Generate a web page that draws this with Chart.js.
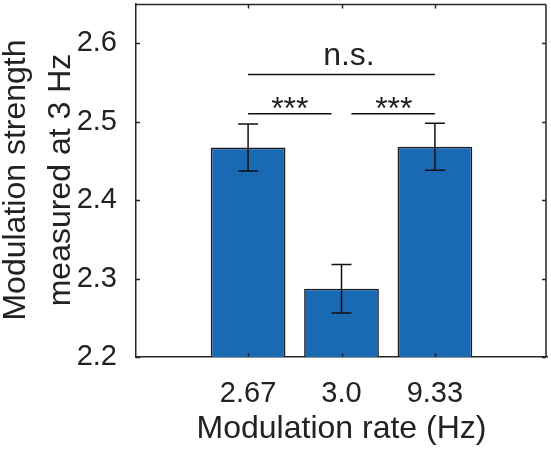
<!DOCTYPE html>
<html>
<head>
<meta charset="utf-8">
<script src="https://cdn.jsdelivr.net/npm/chart.js@4.4.0/dist/chart.umd.min.js"></script>
<style>
  html, body { margin: 0; padding: 0; background: #fff; overflow: hidden; }
  canvas { display: block; }
</style>
</head>
<body>
<canvas id="barChart" width="551" height="452"></canvas>
<script>
// data
var rateLabels = ['2.67', '3.0', '9.33'];
var ratePos = [1, 2, 3];
var strength = [2.467, 2.287, 2.468];
var strengthErr = [0.030, 0.031, 0.030];
var yTicks = [2.2, 2.3, 2.4, 2.5, 2.6];

// significance brackets
var nsBarX = [1, 3];
var nsBarY = 2.56;
var starLeftX = [1, 1.894];
var starRightX = [2.106, 3];
var starBarY = 2.51;
var sigLabels = ['n.s.', '***', '***'];
var sigLabelX = [2.08, 1.447, 2.56];
var sigLabelY = [2.572, 2.504, 2.504];

var FONT = '"Liberation Sans", Arial, sans-serif';
var INK = '#222222';

function bracket(xs, y) {
    return xs.map(function (x) { return { x: x, y: y }; });
}

var framePlugin = {
    id: 'frame',
    afterDatasetsDraw: function (chart) {
        // error bars
        var ctx = chart.ctx;
        var xs = chart.scales.x, ys = chart.scales.y;
        ctx.save();
        ctx.strokeStyle = '#111';
        ctx.lineWidth = 1.5;
        for (var i = 0; i < strength.length; i++) {
            var px = xs.getPixelForValue(ratePos[i]);
            var top = ys.getPixelForValue(strength[i] + strengthErr[i]);
            var bot = ys.getPixelForValue(strength[i] - strengthErr[i]);
            ctx.beginPath();
            ctx.moveTo(px, top); ctx.lineTo(px, bot);
            ctx.moveTo(px - 10, top); ctx.lineTo(px + 10, top);
            ctx.moveTo(px - 10, bot); ctx.lineTo(px + 10, bot);
            ctx.stroke();
        }
        ctx.restore();
    },
    afterDraw: function (chart) {
        var ctx = chart.ctx;
        var a = chart.chartArea;
        var xs = chart.scales.x, ys = chart.scales.y;
        var L = Math.round(a.left), R = Math.round(a.right) - 1;
        var T = Math.round(a.top) + 0.5, B = Math.round(a.bottom);
        ctx.save();
        // top and right edges of the box, plus inward ticks
        ctx.strokeStyle = '#262626';
        ctx.lineWidth = 1.5;
        ctx.beginPath();
        ctx.moveTo(L, T); ctx.lineTo(R, T);
        ctx.moveTo(R, T); ctx.lineTo(R, B);
        ratePos.forEach(function (v) {
            var px = Math.round(xs.getPixelForValue(v)) + 0.5;
            ctx.moveTo(px, B); ctx.lineTo(px, B - 4);
            ctx.moveTo(px, T); ctx.lineTo(px, T + 4);
        });
        yTicks.forEach(function (v) {
            var py = Math.round(ys.getPixelForValue(v)) + 0.5;
            ctx.moveTo(L, py); ctx.lineTo(L + 4, py);
            ctx.moveTo(R, py); ctx.lineTo(R - 4, py);
        });
        ctx.stroke();

        // significance labels
        ctx.fillStyle = INK;
        ctx.textAlign = 'center';
        ctx.textBaseline = 'alphabetic';
        ctx.font = '32px ' + FONT;
        for (var i = 0; i < sigLabels.length; i++) {
            ctx.fillText(sigLabels[i], xs.getPixelForValue(sigLabelX[i]), ys.getPixelForValue(sigLabelY[i]));
        }

        // two-line y title
        ctx.translate(25, 180);
        ctx.rotate(-Math.PI / 2);
        ctx.fillText('Modulation strength', 0, 0);
        ctx.fillText('measured at 3 Hz', 0, 45);
        ctx.restore();
    }
};

var ctx = document.getElementById('barChart').getContext('2d');
var chart = new Chart(ctx, {
    type: 'bar',
    data: {
        datasets: [
            {
                type: 'bar',
                data: ratePos.map(function (x, i) { return { x: x, y: strength[i] }; }),
                backgroundColor: '#1a6ab3',
                borderColor: '#1c1c1c',
                borderWidth: 1.6,
                borderSkipped: false,
                barPercentage: 1,
                categoryPercentage: 0.8
            },
            { type: 'line', data: bracket(nsBarX, nsBarY), borderColor: '#111', borderWidth: 1.5, pointRadius: 0, fill: false },
            { type: 'line', data: bracket(starLeftX, starBarY), borderColor: '#111', borderWidth: 1.5, pointRadius: 0, fill: false },
            { type: 'line', data: bracket(starRightX, starBarY), borderColor: '#111', borderWidth: 1.5, pointRadius: 0, fill: false }
        ]
    },
    options: {
        responsive: false,
        animation: false,
        devicePixelRatio: 1,
        layout: { padding: { top: 4, right: 4, left: 0, bottom: 0 } },
        plugins: {
            legend: { display: false },
            tooltip: { enabled: false }
        },
        scales: {
            x: {
                type: 'linear',
                offset: false,
                min: -0.2,
                max: 4.2,
                afterBuildTicks: function (s) {
                    s.ticks = ratePos.map(function (v) { return { value: v }; });
                },
                ticks: {
                    autoSkip: false,
                    maxRotation: 0,
                    padding: 12,
                    color: INK,
                    font: { family: FONT, size: 29 },
                    callback: function (v) {
                        var i = ratePos.indexOf(v);
                        return i < 0 ? '' : rateLabels[i];
                    }
                },
                grid: { display: false },
                border: { display: true, color: '#262626', width: 1.5 },
                title: {
                    display: true,
                    text: 'Modulation rate (Hz)',
                    color: INK,
                    font: { family: FONT, size: 32 },
                    padding: { top: 0, bottom: 4 }
                },
                afterFit: function (s) {
                    s.height = 95;
                    s.paddingLeft = 0;
                    s.paddingRight = 0;
                }
            },
            y: {
                min: 2.2,
                max: 2.65,
                afterBuildTicks: function (s) {
                    s.ticks = yTicks.map(function (v) { return { value: v }; });
                },
                ticks: {
                    padding: 11,
                    color: INK,
                    font: { family: FONT, size: 29 },
                    callback: function (v) { return v.toFixed(1); }
                },
                grid: { display: false },
                border: { display: true, color: '#262626', width: 1.5 },
                afterFit: function (s) {
                    s.width = 136;
                    s.paddingTop = 0;
                    s.paddingBottom = 0;
                }
            }
        }
    },
    plugins: [framePlugin]
});
</script>
</body>
</html>
